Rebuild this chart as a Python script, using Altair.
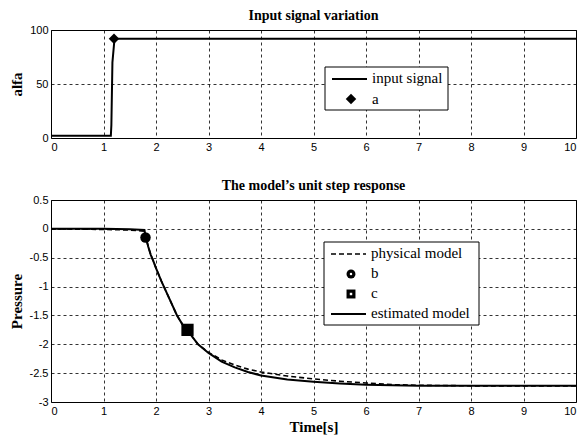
import altair as alt
import pandas as pd

# ---- data ----
x_ticks = [0, 1, 2, 3, 4, 5, 6, 7, 8, 9, 10]

input_t = [0, 1.14, 1.15, 1.17, 1.21, 10]
input_v = [2, 2, 12, 70, 92, 92]
a_t = [1.2]
a_v = [92]

est_t = [0, 1.0, 1.5, 1.78, 1.8, 1.85, 1.9, 1.95, 2.0, 2.1, 2.2, 2.3, 2.4, 2.5, 2.6,
         2.8, 3.0, 3.25, 3.5, 3.75, 4.0, 4.5, 5.0, 5.5, 6.0, 7.0, 8.0, 10.0]
est_v = [0, 0, -0.005, -0.02, -0.12, -0.3, -0.45, -0.56, -0.68, -0.9, -1.1, -1.3, -1.5, -1.65, -1.76,
         -2.0, -2.15, -2.3, -2.4, -2.48, -2.54, -2.61, -2.65, -2.68, -2.70, -2.72, -2.72, -2.72]

phys_t = [0, 1.0, 1.5, 1.78, 1.8, 1.85, 1.9, 1.95, 2.0, 2.1, 2.2, 2.3, 2.4, 2.5, 2.6,
          2.8, 3.0, 3.25, 3.5, 3.75, 4.0, 4.5, 5.0, 5.5, 6.0, 6.5, 7.0, 8.0, 10.0]
phys_v = [0, -0.01, -0.02, -0.04, -0.13, -0.3, -0.45, -0.56, -0.68, -0.9, -1.1, -1.3, -1.5, -1.65, -1.76,
          -2.0, -2.14, -2.27, -2.36, -2.43, -2.48, -2.55, -2.60, -2.64, -2.67, -2.70, -2.71, -2.72, -2.72]

b_t = [1.8]
b_v = [-0.15]
c_t = [2.6]
c_v = [-1.75]

top_y_ticks = [0, 50, 100]
bot_y_ticks = [-3, -2.5, -2, -1.5, -1, -0.5, 0, 0.5]

top_legend = ["input signal", "a"]
bot_legend = ["physical model", "b", "c", "estimated model"]

# ---- frames ----
inp = pd.DataFrame({"t": input_t, "v": input_v})
adf = pd.DataFrame({"t": a_t, "v": a_v})
est = pd.DataFrame({"t": est_t, "v": est_v})
phy = pd.DataFrame({"t": phys_t, "v": phys_v})
bdf = pd.DataFrame({"t": b_t, "v": b_v})
cdf = pd.DataFrame({"t": c_t, "v": c_v})
one = pd.DataFrame({"d": [0]})

SERIF = "Liberation Serif"
W = 525

def xenc(title=None):
    ax = alt.Axis(values=x_ticks, labelExpr="toString(datum.value)", grid=True, title=title,
                  titlePadding=3)
    return alt.X("t:Q", scale=alt.Scale(domain=[0, 10], nice=False, zero=False), axis=ax)

def yenc(domain, ticks, title):
    return alt.Y("v:Q", scale=alt.Scale(domain=domain, nice=False, zero=False),
                 axis=alt.Axis(values=ticks, labelExpr="toString(datum.value)", grid=True,
                               title=title, minExtent=23, maxExtent=23, titlePadding=4))

# ---------- top panel ----------
xtop = xenc(None)
ytop = yenc([0, 100], top_y_ticks, "alfa")
top_line = alt.Chart(inp).mark_line(color="black", strokeWidth=2).encode(x=xtop, y=ytop)
top_pt = alt.Chart(adf).mark_point(shape="diamond", filled=True, color="black", size=110, opacity=1).encode(
    x=xtop, y=ytop)

tl_box = alt.Chart(one).mark_rect(fill="white", stroke="black", strokeWidth=1).encode(
    x=alt.value(274), x2=alt.value(397), y=alt.value(37), y2=alt.value(80))
tl_line = alt.Chart(one).mark_rule(color="black", strokeWidth=2).encode(
    x=alt.value(281), x2=alt.value(316), y=alt.value(49))
tl_mark = alt.Chart(one).mark_point(shape="diamond", filled=True, color="black", size=110, opacity=1).encode(
    x=alt.value(300), y=alt.value(69))
tl_t1 = alt.Chart(one).mark_text(font=SERIF, fontSize=15, align="left", baseline="middle", color="black").encode(
    x=alt.value(321), y=alt.value(48), text=alt.value(top_legend[0]))
tl_t2 = alt.Chart(one).mark_text(font=SERIF, fontSize=15, align="left", baseline="middle", color="black").encode(
    x=alt.value(321), y=alt.value(69), text=alt.value(top_legend[1]))

top = alt.layer(top_line, top_pt, tl_box, tl_line, tl_mark, tl_t1, tl_t2).properties(
    width=W, height=108, title="Input signal variation")

# ---------- bottom panel ----------
xbot = xenc("Time[s]")
ybot = yenc([-3, 0.5], bot_y_ticks, "Pressure")
phys_line = alt.Chart(phy).mark_line(color="black", strokeWidth=1.6, strokeDash=[5, 3]).encode(x=xbot, y=ybot)
est_line = alt.Chart(est).mark_line(color="black", strokeWidth=2).encode(x=xbot, y=ybot)
b_pt = alt.Chart(bdf).mark_point(shape="circle", filled=True, color="black", size=110, opacity=1).encode(
    x=xbot, y=ybot)
c_pt = alt.Chart(cdf).mark_point(shape="square", filled=True, color="black", size=150, opacity=1).encode(
    x=xbot, y=ybot)

bl_box = alt.Chart(one).mark_rect(fill="white", stroke="black", strokeWidth=1).encode(
    x=alt.value(273), x2=alt.value(428), y=alt.value(42), y2=alt.value(125))
bl_l1 = alt.Chart(one).mark_rule(color="black", strokeWidth=1.6, strokeDash=[5, 3]).encode(
    x=alt.value(280), x2=alt.value(315), y=alt.value(54))
bl_m2 = alt.Chart(one).mark_point(shape="circle", filled=True, color="black", size=80, opacity=1).encode(
    x=alt.value(300), y=alt.value(74))
bl_m2d = alt.Chart(one).mark_point(shape="circle", filled=True, color="white", size=6, opacity=1).encode(
    x=alt.value(300), y=alt.value(74))
bl_m3 = alt.Chart(one).mark_point(shape="square", filled=True, color="black", size=80, opacity=1).encode(
    x=alt.value(300), y=alt.value(94))
bl_m3d = alt.Chart(one).mark_point(shape="square", filled=True, color="white", size=6, opacity=1).encode(
    x=alt.value(300), y=alt.value(94))
bl_l4 = alt.Chart(one).mark_rule(color="black", strokeWidth=2).encode(
    x=alt.value(280), x2=alt.value(315), y=alt.value(114))
bl_texts = [
    alt.Chart(one).mark_text(font=SERIF, fontSize=15, align="left", baseline="middle", color="black").encode(
        x=alt.value(320), y=alt.value(yy), text=alt.value(lbl))
    for lbl, yy in zip(bot_legend, [53, 73, 93, 113])
]

bottom = alt.layer(phys_line, est_line, b_pt, c_pt, bl_box, bl_l1, bl_m2, bl_m2d, bl_m3, bl_m3d, bl_l4,
                   *bl_texts).properties(width=W, height=202, title="The model\u2019s unit step response")

chart = alt.vconcat(top, bottom, spacing=25).properties(
    padding={"left": 8, "top": 8, "right": 0, "bottom": 0}
).configure_view(stroke="black", strokeWidth=1).configure_axis(
    labelFont="Liberation Sans", labelFontSize=11, labelColor="black", labelPadding=3,
    ticks=False, domain=False, labelOverlap=False,
    gridColor="black", gridDash=[3, 3], gridOpacity=0.8, gridWidth=1,
    titleFont=SERIF, titleFontSize=15, titleFontWeight="bold", titleColor="black",
).configure_title(font=SERIF, fontSize=14, fontWeight="bold", color="black", offset=1)

chart.save("out.html", embed_options={"renderer": "svg", "actions": False})
